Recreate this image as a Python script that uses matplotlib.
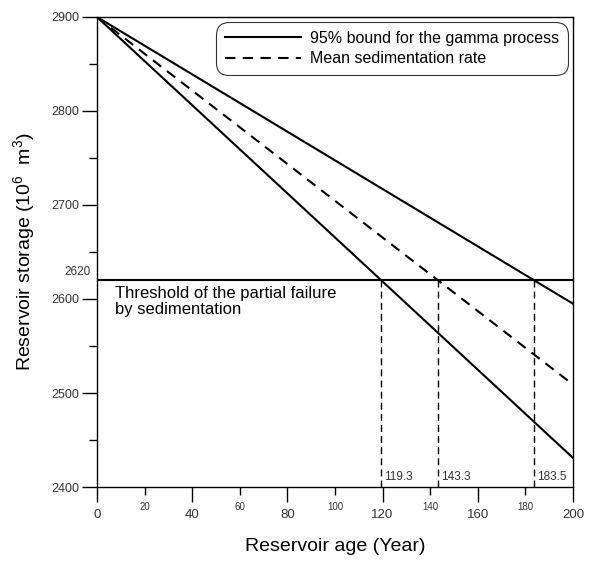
import matplotlib
matplotlib.use("Agg")
import matplotlib.pyplot as plt
from matplotlib.ticker import FixedLocator, FixedFormatter

plt.rcParams['font.family'] = ['Liberation Sans', 'DejaVu Sans']
plt.rcParams['mathtext.fontset'] = 'custom'
plt.rcParams['mathtext.rm'] = 'Liberation Sans'

# datos
age = [0, 200]
upper_bound = [2900, 2595]   # 95% superior
mean_rate = [2900, 2509]     # tasa media
lower_bound = [2900, 2431]   # 95% inferior

threshold = 2620
cross_ages = [119.3, 143.3, 183.5]
cross_labels = ["119.3", "143.3", "183.5"]

major_x = [0, 40, 80, 120, 160, 200]
minor_x = [20, 60, 100, 140, 180]
major_y = [2400, 2500, 2600, 2700, 2800, 2900]
minor_y = [2450, 2550, 2650, 2750, 2850]

fig = plt.figure(figsize=(5.91, 5.65), dpi=100)
ax = fig.add_axes([0.164, 0.138, 0.8055, 0.832])

ax.plot(age, upper_bound, color="black", lw=1.5, label="95% bound for the gamma process")
ax.plot(age, mean_rate, color="black", lw=1.5, ls=(0, (5, 3.5)), label="Mean sedimentation rate")
ax.plot(age, lower_bound, color="black", lw=1.5)

ax.axhline(threshold, color="black", lw=1.5)
for a, lab in zip(cross_ages, cross_labels):
    ax.plot([a, a], [2400, threshold], color="black", lw=1, ls=(0, (5, 3)))
    ax.text(a + 1.2, 2411, lab, fontsize=8.5, ha="left", va="center", color="#333333")

ax.text(7.5, 2614, "Threshold of the partial failure\nby sedimentation", fontsize=12,
        ha="left", va="top", linespacing=1.1)
ax.text(-2.5, threshold + 2, str(threshold), fontsize=8.5, ha="right", va="bottom", color="#333333")

ax.set_xlim(0, 200)
ax.set_ylim(2400, 2900)
ax.xaxis.set_major_locator(FixedLocator(major_x))
ax.xaxis.set_minor_locator(FixedLocator(minor_x))
ax.xaxis.set_minor_formatter(FixedFormatter([str(v) for v in minor_x]))
ax.yaxis.set_major_locator(FixedLocator(major_y))
ax.yaxis.set_minor_locator(FixedLocator(minor_y))

ax.tick_params(axis="x", which="major", direction="out", length=11, width=1, pad=5,
               labelsize=9.5, labelcolor="#333333")
ax.tick_params(axis="x", which="minor", direction="out", length=6, width=1, pad=5,
               labelsize=7, labelcolor="#333333")
ax.tick_params(axis="y", which="major", direction="out", length=11, width=1, pad=2,
               labelsize=9, labelcolor="#333333")
ax.tick_params(axis="y", which="minor", direction="out", length=6, width=1)

for s in ax.spines.values():
    s.set_linewidth(1)

ax.set_xlabel("Reservoir age (Year)", fontsize=14, labelpad=12)
ax.set_ylabel("Reservoir storage (10$^6$  m$^3$)", fontsize=14, labelpad=9)

leg = ax.legend(loc="upper right", fontsize=11.5, frameon=True, fancybox=True,
                handlelength=4.8, handletextpad=0.55, borderpad=0.55, labelspacing=0.35,
                borderaxespad=0, bbox_to_anchor=(0.9895, 0.989))
leg.get_frame().set_edgecolor("black")
leg.get_frame().set_linewidth(0.8)
leg.get_frame().set_boxstyle("round", pad=0, rounding_size=0.8)

fig.savefig("out.png", dpi=100)
